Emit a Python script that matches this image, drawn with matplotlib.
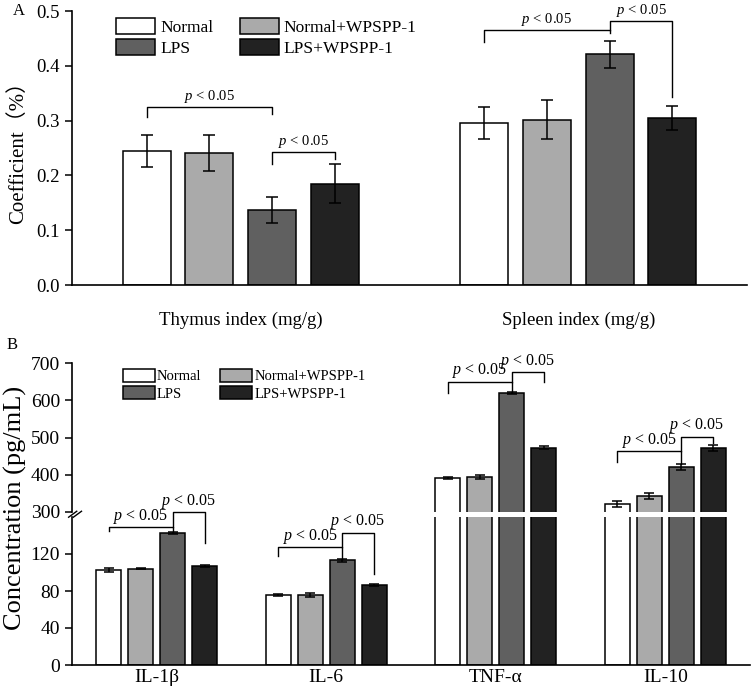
import numpy as np
import matplotlib.pyplot as plt
from matplotlib.patches import Patch

plt.rcParams["font.family"] = ["Liberation Serif", "Noto Sans CJK SC"]
plt.rcParams["mathtext.fontset"] = "custom"
plt.rcParams["mathtext.it"] = "Liberation Serif:italic"
plt.rcParams["mathtext.rm"] = "Liberation Serif"

groups = ["Normal", "Normal+WPSPP-1", "LPS", "LPS+WPSPP-1"]
colors = ["#ffffff", "#aaaaaa", "#606060", "#222222"]

# panel A: organ indices
organs = ["Thymus index (mg/g)", "Spleen index (mg/g)"]
organ_mean = np.array([[0.245, 0.296],   # Normal
                       [0.241, 0.302],   # Normal+WPSPP-1
                       [0.137, 0.421],   # LPS
                       [0.185, 0.305]])  # LPS+WPSPP-1
organ_err = np.array([[0.029, 0.029],
                      [0.033, 0.036],
                      [0.023, 0.025],
                      [0.035, 0.022]])
# (category, bar_a, bar_b, top, left leg end, right leg end)
organ_brackets = [(0, 0, 2, 0.325, 0.306, 0.312),
                  (0, 2, 3, 0.243, 0.221, 0.230),
                  (1, 0, 2, 0.465, 0.443, 0.460),
                  (1, 2, 3, 0.482, 0.465, 0.343)]

# panel B: cytokines
cytokines = ["IL-1β", "IL-6", "TNF-α", "IL-10"]
cyto_mean = np.array([[102.8, 75.5, 390.5, 321],
                      [104.3, 75.5, 393, 344],
                      [142.8, 113.3, 619, 420],
                      [107.0, 86.5, 473, 473]])
cyto_err = np.array([[2.0, 1.0, 3, 8],
                     [1.0, 2.5, 5, 8],
                     [1.5, 1.5, 3, 8],
                     [1.5, 1.5, 3, 8]])
cyto_brackets = [(0, 0, 2, 149, 145, 144.5),
                 (0, 2, 3, 165, 149, 132),
                 (1, 0, 2, 127.5, 118, 114.5),
                 (1, 2, 3, 143, 127.5, 98),
                 (2, 0, 2, 650, 620, 622),
                 (2, 2, 3, 676, 650, 650),
                 (3, 0, 2, 463, 433, 430),
                 (3, 2, 3, 502, 463, 485)]

fig = plt.figure(figsize=(7.56, 6.94), dpi=100)

def draw_bars(ax, means, errs, width, step, capsize):
    x = np.arange(means.shape[1])
    for i in range(4):
        ax.bar(x + (i - 1.5) * step, means[i], width, color=colors[i],
               edgecolor="black", linewidth=1.1, zorder=2)
        ax.errorbar(x + (i - 1.5) * step, means[i], yerr=errs[i], fmt="none",
                    ecolor="black", elinewidth=1.1, capsize=capsize,
                    capthick=1.1, zorder=3)

def draw_bracket(ax, cat, a, b, top, ya, yb, step, fs, off):
    xa = cat + (a - 1.5) * step
    xb = cat + (b - 1.5) * step
    ax.plot([xa, xa, xb, xb], [ya, top, top, yb], color="black", lw=1.0,
            clip_on=False, zorder=4)
    ax.annotate("$p$ < 0.05", xy=((xa + xb) / 2, top), xytext=(0, off),
                textcoords="offset points", ha="center", va="bottom",
                fontsize=fs, annotation_clip=False, zorder=5)

# ---- panel A ----
axA = fig.add_axes([72 / 756, 1 - 285 / 694, 675 / 756, 274 / 694])
stepA, widthA = 0.186, 0.142
draw_bars(axA, organ_mean, organ_err, widthA, stepA, 4)
for br in organ_brackets:
    draw_bracket(axA, *br, stepA, 10.5, 1.5)
axA.set_xlim(-0.5, 1.5)
axA.set_ylim(0, 0.5)
axA.set_yticks(np.arange(0, 0.51, 0.1))
axA.set_yticklabels([f"{v:.1f}" for v in np.arange(0, 0.51, 0.1)])
axA.set_xticks(range(len(organs)))
axA.set_xticklabels(organs)
axA.tick_params(axis="x", length=0, pad=19, labelsize=13.5)
axA.tick_params(axis="y", direction="out", length=5, width=1.1, labelsize=13.5)
for s in ["top", "right"]:
    axA.spines[s].set_visible(False)
for s in ["left", "bottom"]:
    axA.spines[s].set_linewidth(1.2)
axA.set_ylabel("Coefficient（%）", fontsize=15, labelpad=6)
handles = [Patch(facecolor=c, edgecolor="black", linewidth=1.1) for c in colors]
order = [0, 2, 1, 3]
axA.legend([handles[i] for i in order], [groups[i] for i in order], ncol=2,
           loc="upper left", bbox_to_anchor=(0.055, 1.0), frameon=False,
           fontsize=12.5, handlelength=2.25, handleheight=1.05,
           handletextpad=0.3, columnspacing=1.5, labelspacing=0.2,
           borderaxespad=0.0)
fig.text(19 / 756, 1 - 11 / 694, "A", fontsize=12, ha="center", va="center")

# ---- panel B (broken y axis) ----
axL = fig.add_axes([72 / 756, 1 - 665 / 694, 678 / 756, 148 / 694])
axU = fig.add_axes([72 / 756, 1 - 512 / 694, 678 / 756, 149 / 694])
axU.patch.set_visible(False)
stepB, widthB = 0.188, 0.147
for ax in (axL, axU):
    draw_bars(ax, cyto_mean, cyto_err, widthB, stepB, 3.5)
    ax.set_xlim(-0.5, 3.5)
    for s in ["top", "right"]:
        ax.spines[s].set_visible(False)
    ax.spines["left"].set_linewidth(1.2)
    ax.tick_params(axis="y", direction="out", length=5, width=1.1, labelsize=14)
for br in cyto_brackets:
    ax = axL if br[0] < 2 else axU
    draw_bracket(ax, *br, stepB, 11.5, 1)
axL.set_ylim(0, 160)
axL.set_yticks([0, 40, 80, 120])
axL.spines["bottom"].set_linewidth(1.2)
axL.set_xticks(range(len(cytokines)))
axL.set_xticklabels(cytokines)
axL.tick_params(axis="x", length=0, pad=3, labelsize=14)
axU.set_ylim(300, 700)
axU.set_yticks(np.arange(300, 701, 100))
axU.spines["bottom"].set_visible(False)
axU.set_xticks([])
# break marks on the y axis
for dx in (0.0, 0.007):
    axU.plot([-0.005 + dx, 0.007 + dx], [-0.035, 0.005], transform=axU.transAxes,
             color="black", lw=1.0, clip_on=False)
axU.legend([handles[i] for i in order], [groups[i] for i in order], ncol=2,
           loc="upper left", bbox_to_anchor=(0.066, 1.0), frameon=False,
           fontsize=10.5, handlelength=2.2, handleheight=1.0,
           handletextpad=0.15, columnspacing=1.3, labelspacing=0.2,
           borderaxespad=0.0)
fig.text(15 / 756, 1 - 508 / 694, "Concentration (pg/mL)", fontsize=19,
         rotation=90, ha="center", va="center")
fig.text(12 / 756, 1 - 345 / 694, "B", fontsize=12, ha="center", va="center")

fig.savefig("out.png", dpi=100)
